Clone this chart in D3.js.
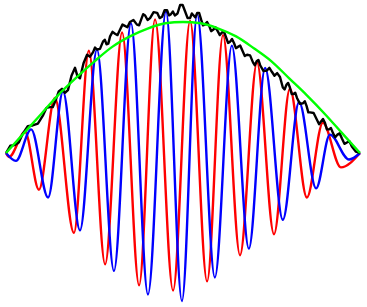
<html>
    <head>
        <style>
            body { margin: 0; background: white; }
            .chart path { fill: none; stroke-width: 2.4; stroke-linejoin: round; }
        </style>
    </head>
    <body>
        <svg class="chart"></svg>
        <script src="https://d3js.org/d3.v7.min.js"></script>
        <script>
            // red wave: extrema (x in 0..100, y relative to envelope)
            var redX = [0, 0.85, 5.4, 9.3, 13.8, 19.2, 23.4, 28.0, 32.8, 37.6, 42.1, 47.2, 52.0, 56.8, 61.3, 66.1, 70.9, 75.7, 80.2, 85.0, 89.5, 94.6, 100];
            var redY = [0, -0.03, 0.16, -0.28, 0.42, -0.61, 0.78, -0.85, 0.92, -1.01, 1.02, -1.05, 1.01, -0.98, 0.90, -0.78, 0.69, -0.62, 0.49, -0.34, 0.23, -0.11, 0];

            // blue wave
            var blueX = [0, 2.8, 7.1, 11.9, 16.1, 20.9, 25.7, 30.5, 35.3, 40.1, 45.2, 49.7, 54.0, 59.0, 63.8, 68.6, 73.2, 78.2, 82.8, 87.6, 91.5, 96.9, 100];
            var blueY = [0, -0.06, 0.18, -0.34, 0.47, -0.59, 0.79, -0.90, 0.99, -1.08, 1.08, -1.13, 1.06, -0.95, 0.82, -0.73, 0.65, -0.51, 0.39, -0.27, 0.14, -0.05, 0];

            // green envelope
            var greenX = [0, 5, 10, 15, 20, 25, 30, 35, 40, 45, 50, 55, 60, 65, 70, 75, 80, 85, 90, 95, 100];
            var greenY = [0, 0.15, 0.30, 0.45, 0.58, 0.70, 0.81, 0.89, 0.95, 0.99, 1.0, 0.99, 0.95, 0.89, 0.80, 0.70, 0.57, 0.44, 0.30, 0.15, 0];

            // black noisy line
            var blackX = [0, 1.2, 2.4, 3.6, 4.8, 6.15, 7.5, 9.0, 10.5, 11.45,
                12.4, 13.2, 14.0, 14.9, 15.8, 16.65, 17.5, 18.5, 19.5, 20.2,
                20.9, 21.9, 22.9, 23.75, 24.6, 25.15, 25.7, 26.55, 27.4, 27.9,
                28.4, 28.9, 29.4, 30.1, 30.8, 31.5, 32.2, 32.9, 33.6, 34.3,
                35.0, 36.0, 37.0, 37.6, 38.2, 38.75, 39.3, 40.0, 40.7, 41.7,
                42.7, 43.4, 44.1, 44.8, 45.5, 46.05, 46.6, 47.15, 47.7, 48.45,
                49.2, 49.9, 50.6, 51.3, 52.0, 52.5, 53.0, 53.5, 54.0, 54.55,
                55.1, 55.65, 56.2, 56.8, 57.4, 57.95, 58.5, 59.15, 59.8, 60.4,
                61.0, 61.6, 62.2, 62.75, 63.3, 63.85, 64.4, 64.95, 65.5, 66.15,
                66.8, 67.45, 68.1, 68.95, 69.8, 70.3, 70.8, 71.3, 71.8, 72.75,
                73.7, 74.4, 75.1, 75.85, 76.6, 77.4, 78.2, 78.7, 79.2, 79.7,
                80.2, 80.7, 81.2, 81.7, 82.2, 83.05, 83.9, 84.4, 84.9, 85.4,
                85.9, 86.9, 87.9, 88.45, 89.0, 89.55, 90.1, 90.65, 91.2, 91.8,
                92.4, 93.0, 93.6, 94.25, 94.9, 95.6, 96.3, 97.0, 97.7, 98.85, 100];
            var blackY = [0, 0.055, 0.06, 0.08, 0.15, 0.205, 0.21, 0.225, 0.29, 0.345,
                0.35, 0.35, 0.40, 0.47, 0.49, 0.46, 0.48, 0.59, 0.65, 0.585,
                0.57, 0.685, 0.75, 0.735, 0.77, 0.805, 0.79, 0.795, 0.85, 0.865,
                0.83, 0.835, 0.89, 0.925, 0.91, 0.90, 0.94, 0.98, 0.97, 0.96,
                1.00, 1.015, 0.98, 0.975, 1.02, 1.06, 1.05, 1.015, 1.03, 1.075,
                1.07, 1.03, 1.04, 1.09, 1.09, 1.05, 1.06, 1.08, 1.05, 1.065,
                1.13, 1.13, 1.08, 1.03, 1.03, 1.065, 1.05, 1.035, 1.07, 1.07,
                1.02, 0.975, 0.98, 1.00, 0.97, 0.93, 0.94, 0.96, 0.93, 0.90,
                0.92, 0.925, 0.88, 0.84, 0.85, 0.87, 0.84, 0.80, 0.81, 0.82,
                0.78, 0.74, 0.75, 0.745, 0.69, 0.67, 0.70, 0.71, 0.67, 0.625,
                0.63, 0.65, 0.62, 0.59, 0.61, 0.58, 0.50, 0.485, 0.52, 0.535,
                0.50, 0.45, 0.45, 0.46, 0.42, 0.375, 0.38, 0.395, 0.36, 0.31,
                0.31, 0.305, 0.25, 0.22, 0.24, 0.26, 0.23, 0.18, 0.18, 0.19,
                0.15, 0.12, 0.14, 0.15, 0.11, 0.07, 0.08, 0.09, 0.05, 0.01, 0];

            var width = 367, height = 307;

            var chart = d3.select('.chart')
                .attr('width', width)
                .attr('height', height);

            var x = d3.scaleLinear().domain([0, 100]).range([6, 360]);
            var y = d3.scaleLinear().domain([-1, 1]).range([284, 22]);

            function pts(xs, ys) {
                return xs.map(function(d, i) { return [d, ys[i]]; });
            }

            var smooth = d3.line()
                .x(function(d) { return x(d[0]); })
                .y(function(d) { return y(d[1]); })
                .curve(d3.curveMonotoneX);

            var plain = d3.line()
                .x(function(d) { return x(d[0]); })
                .y(function(d) { return y(d[1]); });

            chart.append('path').attr('d', smooth(pts(redX, redY))).style('stroke', '#ff0000');
            chart.append('path').attr('d', smooth(pts(blueX, blueY))).style('stroke', '#0000ff');
            chart.append('path').attr('d', plain(pts(blackX, blackY))).style('stroke', '#000000');
            chart.append('path').attr('d', smooth(pts(greenX, greenY))).style('stroke', '#00ff00');
        </script>
    </body>
</html>
